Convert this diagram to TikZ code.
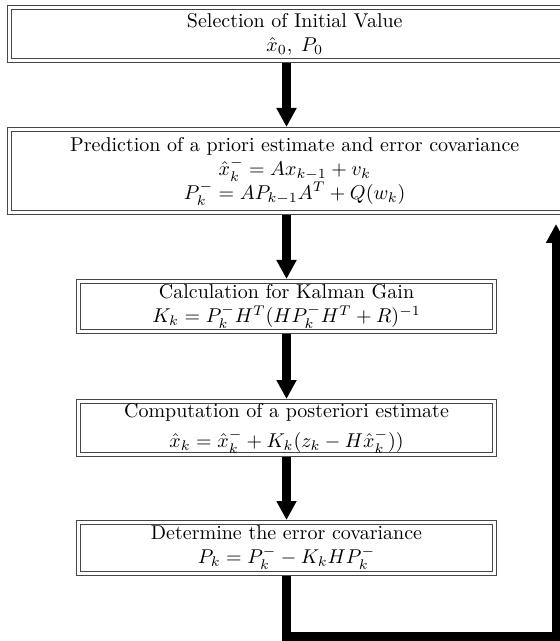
\documentclass[tikz,border=0pt]{standalone}
\usepackage{amsmath, amssymb}
\usepackage{tikz}
\usetikzlibrary{arrows.meta, positioning}
\definecolor{FrameGray}{RGB}{70, 70, 70}

\begin{document}
\begin{tikzpicture}[
  x=0.5pt, y=-0.5pt,
  box/.style={draw=FrameGray, line width=0.5pt, double=white, double distance=1.5pt,
              outer sep=1.25pt, inner sep=0.5pt, align=center, font=\normalsize},
  widebox/.style={box, minimum width=285.25pt},
  smallbox/.style={box, minimum width=208pt},
  arr/.style={-{Triangle[length=9.5pt, width=9.5pt]}, line width=4.5pt, line join=miter}
]
  \useasboundingbox (0,0) rectangle (560,641);
  \clip (0,0) rectangle (560,641);

  % wide boxes, running off the right edge
  \node[widebox, minimum height=26.5pt] (init) at (294.75,34)
    {Selection of Initial Value \\ $\hat{x}_0,\; P_0$};
  \node[widebox, minimum height=41.5pt] (prior) at (294.75,171)
    {Prediction of a priori estimate and error covariance \\
     $\hat{x}_k^- = Ax_{k-1} + v_k$ \\
     $P_k^- = AP_{k-1}A^T + Q(w_k)$};

  % the three inner steps
  \node[smallbox, minimum height=25pt] (gain) at (286.5,306.5)
    {Calculation for Kalman Gain \\ $K_k = P_k^- H^T (HP_k^- H^T + R)^{-1}$};
  \node[smallbox, minimum height=26.5pt] (post) at (286.5,428)
    {Computation of a posteriori estimate \\[3pt] $\hat{x}_k = \hat{x}_k^- + K_k(z_k - H\hat{x}_k^-))$};
  \node[smallbox, minimum height=25.5pt] (cov) at (286.5,548)
    {Determine the error covariance \\ $P_k = P_k^- - K_k H P_k^-$};

  \coordinate (turn) at (556,636);
  \coordinate (back) at (556,224);

  \draw[arr] (init.south -| gain) -- (prior.north -| gain);
  \draw[arr] (prior.south -| gain) -- (gain);
  \draw[arr] (gain) -- (post);
  \draw[arr] (post) -- (cov);
  \draw[arr] (cov.south) |- (turn) -- (back);
\end{tikzpicture}
\end{document}
